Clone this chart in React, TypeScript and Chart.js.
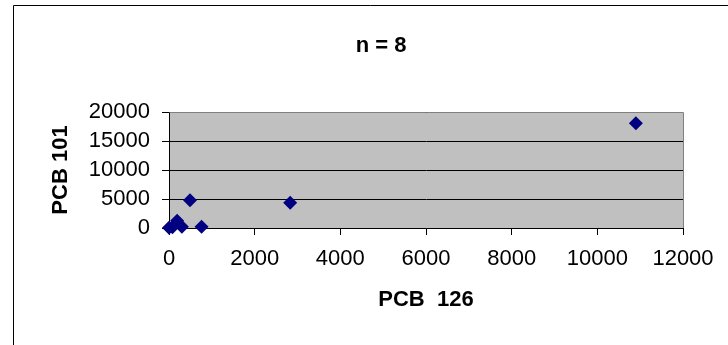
import React, { useEffect, useRef } from "react";
import { Chart, registerables } from "chart.js";

Chart.register(...registerables);

const chartTitle = "n = 8";
const xAxisTitle = "PCB  126";
const yAxisTitle = "PCB 101";
const pcb126 = [0, 80, 190, 300, 490, 760, 2830, 10900];
const pcb101 = [50, 150, 1250, 200, 4800, 200, 4350, 18050];
const xTicks = [0, 2000, 4000, 6000, 8000, 10000, 12000];
const yTicks = [0, 5000, 10000, 15000, 20000];

const FONT = "'Liberation Sans', Arial, sans-serif";
const FS = 22;

const decor = {
  id: "decor",
  beforeDraw(chart: any) {
    const { ctx, chartArea: a } = chart;
    ctx.save();
    ctx.fillStyle = "#ffffff";
    ctx.fillRect(0, 0, chart.width, chart.height);
    ctx.fillStyle = "#C0C0C0";
    ctx.fillRect(a.left, a.top, a.right - a.left, a.bottom - a.top);
    ctx.strokeStyle = "#000000";
    ctx.lineWidth = 1;
    ctx.beginPath();
    ctx.moveTo(13.5, 345);
    ctx.lineTo(13.5, 5.5);
    ctx.lineTo(728, 5.5);
    ctx.stroke();
    ctx.restore();
  },
  beforeDatasetsDraw(chart: any) {
    const { ctx, chartArea: a } = chart;
    ctx.save();
    ctx.strokeStyle = "#808080";
    ctx.lineWidth = 1;
    ctx.beginPath();
    ctx.moveTo(Math.round(a.left) + 0.5, Math.round(a.top) + 0.5);
    ctx.lineTo(Math.round(a.right) + 0.5, Math.round(a.top) + 0.5);
    ctx.lineTo(Math.round(a.right) + 0.5, Math.round(a.bottom));
    ctx.stroke();
    ctx.fillStyle = "#000000";
    ctx.font = `bold ${FS}px ${FONT}`;
    ctx.textAlign = "center";
    ctx.textBaseline = "middle";
    ctx.fillText(chartTitle, 381, 46);
    ctx.restore();
  },
};

export default function App() {
  const ref = useRef<HTMLCanvasElement>(null);
  useEffect(() => {
    if (!ref.current) return;
    const chart = new Chart(ref.current, {
      type: "scatter",
      data: {
        datasets: [
          {
            data: pcb126.map((x, i) => ({ x, y: pcb101[i] })),
            pointStyle: "rectRot",
            pointRadius: 7,
            pointHoverRadius: 7,
            backgroundColor: "#000080",
            borderColor: "#000080",
            borderWidth: 0,
            clip: false,
          },
        ],
      },
      options: {
        responsive: false,
        animation: false,
        devicePixelRatio: 1,
        layout: { padding: { left: 0, right: 45, top: 112, bottom: 0 } },
        plugins: { legend: { display: false }, tooltip: { enabled: false } },
        scales: {
          x: {
            type: "linear",
            min: 0,
            max: 12000,
            afterFit: (s: any) => {
              s.height = 117;
            },
            afterBuildTicks: (s: any) => {
              s.ticks = xTicks.map((v) => ({ value: v }));
            },
            ticks: {
              color: "#000",
              font: { family: FONT, size: FS },
              padding: 11,
              maxRotation: 0,
              autoSkip: false,
              callback: (v: any) => String(v),
            },
            grid: {
              drawOnChartArea: false,
              drawTicks: true,
              tickLength: 7,
              color: "#000",
            },
            border: { color: "#000", width: 1 },
            title: {
              display: true,
              text: xAxisTitle,
              color: "#000",
              font: { family: FONT, size: FS, weight: "bold" },
              padding: { top: 0, bottom: 32 },
            },
          },
          y: {
            type: "linear",
            min: 0,
            max: 20000,
            afterFit: (s: any) => {
              s.width = 169;
            },
            afterBuildTicks: (s: any) => {
              s.ticks = yTicks.map((v) => ({ value: v }));
            },
            ticks: {
              color: "#000",
              font: { family: FONT, size: FS },
              padding: 12,
              autoSkip: false,
              callback: (v: any) => String(v),
            },
            grid: {
              drawOnChartArea: true,
              drawTicks: true,
              tickLength: 7,
              color: "#000",
            },
            border: { color: "#000", width: 1 },
            title: {
              display: true,
              text: yAxisTitle,
              color: "#000",
              font: { family: FONT, size: FS, weight: "bold" },
              padding: { top: 48, bottom: 0 },
            },
          },
        },
      },
      plugins: [decor],
    } as any);
    return () => chart.destroy();
  }, []);
  return (
    <div style={{ position: "absolute", left: 0, top: 0, width: 728, height: 345 }}>
      <canvas ref={ref} width={728} height={345} style={{ display: "block" }} />
    </div>
  );
}
